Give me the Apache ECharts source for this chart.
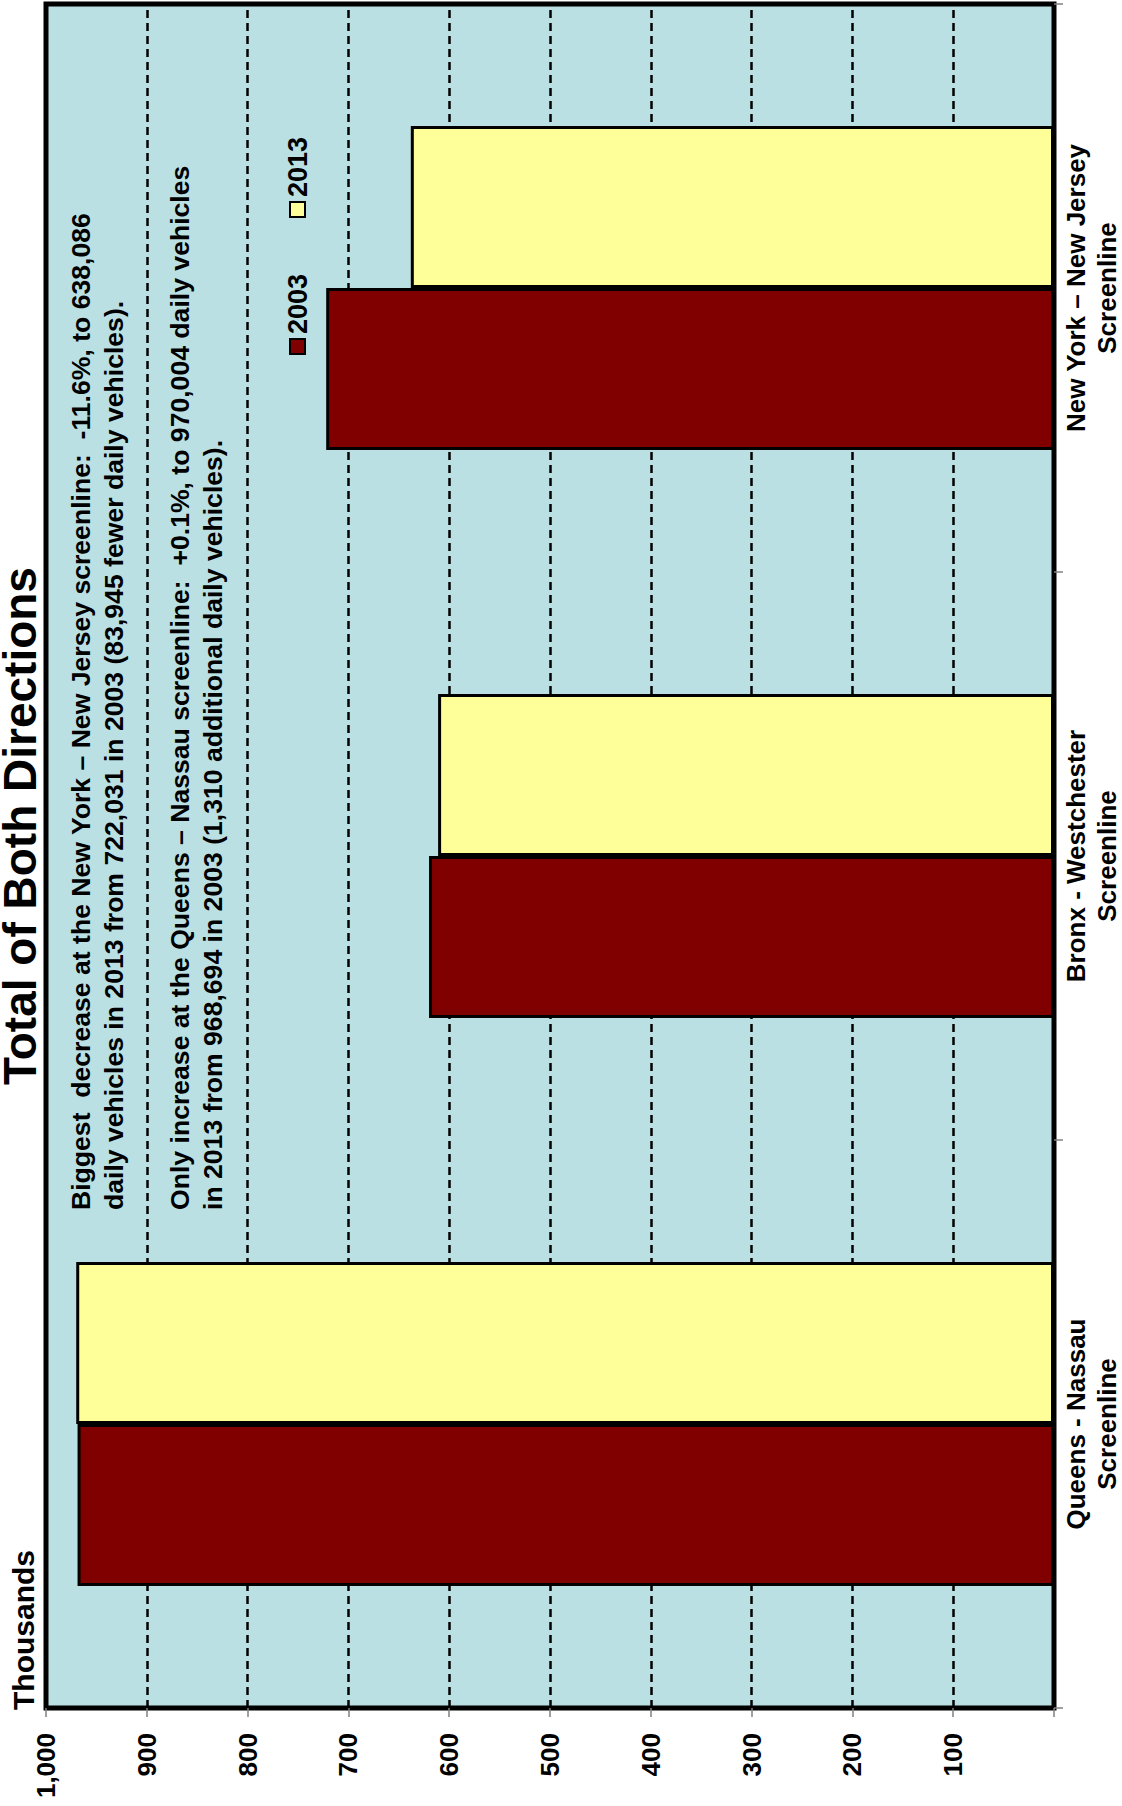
<!DOCTYPE html>
<html>
<head>
<meta charset="utf-8">
<script src="https://cdn.jsdelivr.net/npm/echarts@6/dist/echarts.min.js"></script>
<style>
  html, body { margin: 0; padding: 0; width: 1122px; height: 1806px; overflow: hidden; background: #ffffff; }
  /* the chart is laid out landscape and turned a quarter turn counter-clockwise */
  #chart {
    position: absolute; left: 0; top: 0;
    width: 1806px; height: 1122px;
    transform-origin: 0 0;
    transform: translate(0, 1806px) rotate(-90deg);
  }
</style>
</head>
<body>
<div id="chart"></div>
<script>
// Screenline volumes, thousands of daily vehicles (both directions)
const categories = [
  'Queens - Nassau\nScreenline',
  'Bronx - Westchester\nScreenline',
  'New York \u2013 New Jersey\nScreenline'
];
const seriesNames = ['2003', '2013'];
const vehicles2003 = [968.694, 620, 722.031];
const vehicles2013 = [970.004, 611, 638.086];

// value axis ticks
const axisMin = 0;
const axisMax = 1000;
const axisStep = 100;

const titleText = 'Total of Both Directions';
const unitLabel = 'Thousands';
const noteLines = [
  'Biggest  decrease at the New York \u2013 New Jersey screenline:  -11.6%, to 638,086',
  'daily vehicles in 2013 from 722,031 in 2003 (83,945 fewer daily vehicles).',
  '',
  'Only increase at the Queens \u2013 Nassau screenline:  +0.1%, to 970,004 daily vehicles',
  'in 2013 from 968,694 in 2003 (1,310 additional daily vehicles).'
];

const FONT = '"Liberation Sans", Arial, Helvetica, sans-serif';
const seriesColors = ['#800000', '#FFFF99'];
const seriesData = [vehicles2003, vehicles2013];

const chart = echarts.init(document.getElementById('chart'), null, { renderer: 'svg' });

chart.setOption({
  animation: false,
  backgroundColor: '#ffffff',
  textStyle: { fontFamily: FONT },
  grid: {
    left: 98, top: 46, right: 4, bottom: 68,
    show: true,
    backgroundColor: '#BBE0E3',
    borderColor: '#000000',
    borderWidth: 5,
    containLabel: false,
    outerBoundsMode: 'none'
  },
  legend: {
    data: seriesNames,
    left: 1451, top: 284,
    padding: 0,
    orient: 'horizontal',
    icon: 'rect',
    itemWidth: 15, itemHeight: 15,
    itemGap: 56,
    itemStyle: { borderColor: '#000000', borderWidth: 2 },
    textStyle: { fontFamily: FONT, fontSize: 27, color: '#000000', fontWeight: 'bold' },
    selectedMode: false
  },
  xAxis: {
    type: 'category',
    data: categories,
    axisLine: { show: false },
    axisTick: { show: true, length: 9, lineStyle: { color: '#808080', width: 1.5 } },
    axisLabel: {
      fontFamily: FONT, fontSize: 26, fontWeight: 'bold', color: '#000000',
      lineHeight: 31, margin: 6, interval: 0
    },
    splitLine: { show: false }
  },
  yAxis: {
    type: 'value',
    min: axisMin, max: axisMax, interval: axisStep,
    axisLine: { show: false },
    axisTick: { show: true, length: 9, lineStyle: { color: '#808080', width: 1.5 } },
    axisLabel: {
      fontFamily: FONT, fontSize: 26, fontWeight: 'bold', color: '#000000', margin: 25,
      formatter: function (v) { return v === 0 ? '' : v.toLocaleString('en-US'); }
    },
    splitLine: {
      show: true,
      lineStyle: { color: '#000000', width: 2.5, type: [8, 5] }
    }
  },
  graphic: [
    {
      type: 'text',
      silent: true,
      z: 100,
      style: {
        text: titleText,
        x: 980, y: 20,
        align: 'center', verticalAlign: 'middle',
        fontFamily: FONT, fontSize: 46, fontWeight: 'bold',
        fill: '#000000'
      }
    },
    {
      // unit caption above the value axis
      type: 'text',
      silent: true,
      z: 100,
      style: {
        text: unitLabel,
        x: 96, y: 23,
        align: 'left', verticalAlign: 'middle',
        fontFamily: FONT, fontSize: 30, fontWeight: 'bold',
        fill: '#000000'
      }
    },
    {
      type: 'text',
      silent: true,
      z: 100,
      style: {
        text: noteLines.join('\n'),
        x: 596, y: 64,
        align: 'left', verticalAlign: 'top',
        fontFamily: FONT, fontSize: 26.6, fontWeight: 'bold',
        lineHeight: 33,
        fill: '#000000'
      }
    }
  ],
  series: seriesNames.map(function (name, i) {
    return {
      name: name,
      type: 'bar',
      data: seriesData[i],
      barGap: '0%',
      barCategoryGap: '43%',
      itemStyle: { color: seriesColors[i], borderColor: '#000000', borderWidth: 3 },
      emphasis: { disabled: true },
      label: { show: false }
    };
  })
});
</script>
</body>
</html>
